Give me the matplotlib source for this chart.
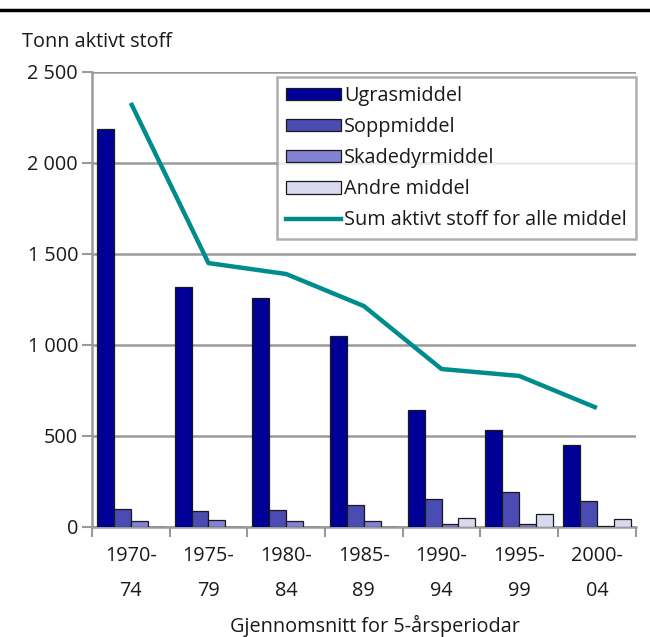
import matplotlib
matplotlib.use("Agg")
import matplotlib.pyplot as plt
import numpy as np
from matplotlib.lines import Line2D

plt.rcParams['font.family'] = ['Open Sans', 'DejaVu Sans']

categories = ["1970-\n74", "1975-\n79", "1980-\n84", "1985-\n89", "1990-\n94", "1995-\n99", "2000-\n04"]
ugrasmiddel = [2187, 1319, 1258, 1049, 641, 531, 449]
soppmiddel = [99, 86, 92, 119, 152, 190, 141]
skadedyrmiddel = [31, 37, 31, 31, 15, 15, 4]
andre_middel = [0, 0, 0, 0, 48, 73, 42]
sum_alle = [2330, 1450, 1390, 1214, 868, 830, 654]

series_names = ["Ugrasmiddel", "Soppmiddel", "Skadedyrmiddel", "Andre middel"]
series_vals = [ugrasmiddel, soppmiddel, skadedyrmiddel, andre_middel]
colors = ["#000096", "#4b4bb4", "#8282d2", "#d8d8ee"]
line_color = "#008c8c"
grid_color = "#9a9a9a"
FS = 14.3

fig = plt.figure(figsize=(6.5, 6.37), dpi=100)
ax = fig.add_axes([0.1415, 0.1727, 0.8365, 0.7143])

x = np.arange(len(categories))
bw = 0.217
offsets = (np.arange(4) - 1.5) * bw
handles = []
for name, vals, c, off in zip(series_names, series_vals, colors, offsets):
    h = ax.bar(x + off, vals, width=bw, color=c, edgecolor="#1a1a1a", linewidth=0.9, label=name, zorder=3)
    handles.append(h)

ax.plot(x, sum_alle, color=line_color, linewidth=3.2, zorder=4, solid_capstyle='butt')
handles.append(Line2D([0], [0], color=line_color, linewidth=3.2))

ax.set_xlim(-0.5, len(categories) - 0.5)
ax.set_ylim(0, 2500)
ax.set_yticks([0, 500, 1000, 1500, 2000, 2500])
ax.set_yticklabels(["0", "500", "1 000", "1 500", "2 000", "2 500"], fontsize=FS, color="#1a1a1a")
ax.yaxis.grid(True, color=grid_color, linewidth=1.8, zorder=0)
ax.set_axisbelow(True)

ax.set_xticks(np.arange(len(categories) + 1) - 0.5, minor=False)
ax.set_xticklabels([])
ax.set_xticks(x, minor=True)
ax.set_xticklabels(categories, minor=True, fontsize=FS, color="#1a1a1a", linespacing=1.95)
ax.tick_params(axis='x', which='major', length=7, width=1.5, color=grid_color)
ax.tick_params(axis='x', which='minor', length=0, pad=14)
ax.tick_params(axis='y', length=7, width=1.5, color=grid_color, pad=3)

for s in ["top", "right"]:
    ax.spines[s].set_visible(False)
for s in ["left", "bottom"]:
    ax.spines[s].set_color(grid_color)
    ax.spines[s].set_linewidth(1.8)

leg = ax.legend(handles, series_names + ["Sum aktivt stoff for alle middel"], loc="upper right",
                bbox_to_anchor=(1.0, 0.989), fontsize=FS, frameon=True, fancybox=False,
                edgecolor=grid_color, handlelength=2.76, handleheight=0.6, handletextpad=0.15,
                labelspacing=0.56, borderpad=0.45, borderaxespad=0.0)
leg.get_frame().set_linewidth(1.8)
for t in leg.get_texts():
    t.set_color("#1a1a1a")

fig.text(22 / 650, 1 - 42 / 637, "Tonn aktivt stoff", fontsize=FS, va="center", ha="left", color="#1a1a1a")
fig.text(375 / 650, 1 - 626 / 637, "Gjennomsnitt for 5-årsperiodar", fontsize=FS, va="center", ha="center", color="#1a1a1a")
fig.add_artist(Line2D([0, 1], [1 - 10 / 637, 1 - 10 / 637], transform=fig.transFigure, color="black", linewidth=2.5))

fig.savefig("out.png", dpi=100)
